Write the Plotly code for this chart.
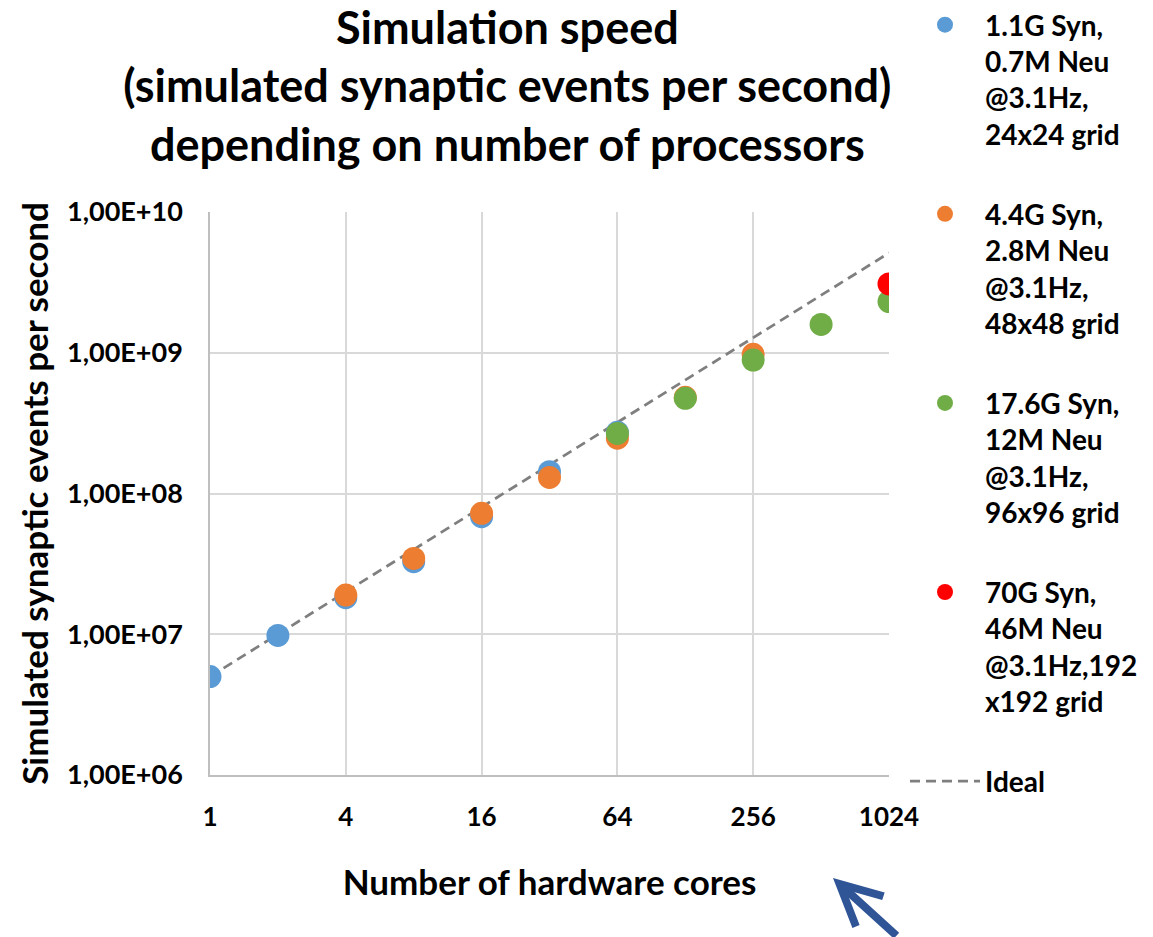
import plotly.graph_objects as go

# ---- data ----
cores_s1 = [1, 2, 4, 8, 16, 32, 64]
speed_s1 = [5.0e6, 9.8e6, 1.82e7, 3.28e7, 6.84e7, 1.43e8, 2.72e8]

cores_s2 = [4, 8, 16, 32, 64, 128, 256]
speed_s2 = [1.90e7, 3.46e7, 7.23e7, 1.30e8, 2.47e8, 4.82e8, 9.75e8]

cores_s3 = [64, 128, 256, 512, 1024]
speed_s3 = [2.67e8, 4.75e8, 8.88e8, 1.59e9, 2.31e9]

cores_s4 = [1024]
speed_s4 = [3.08e9]

cores_ideal = [1, 2, 4, 8, 16, 32, 64, 128, 256, 512, 1024]
speed_ideal = [5.0e6, 1.0e7, 2.0e7, 4.0e7, 8.0e7, 1.6e8, 3.2e8, 6.4e8, 1.28e9, 2.56e9, 5.12e9]

series_names = [
    "1.1G Syn,<br>0.7M Neu<br>@3.1Hz,<br>24x24 grid",
    "4.4G Syn,<br>2.8M Neu<br>@3.1Hz,<br>48x48 grid",
    "17.6G Syn,<br>12M Neu<br>@3.1Hz,<br>96x96 grid",
    "70G Syn,<br>46M Neu<br>@3.1Hz,192<br>x192 grid",
]
ideal_name = "Ideal"
series_colors = ["#5B9BD5", "#ED7D31", "#70AD47", "#FF0000"]

x_tickvals = [1, 4, 16, 64, 256, 1024]
x_ticktext = ["1", "4", "16", "64", "256", "1024"]
y_tickvals = [1e6, 1e7, 1e8, 1e9, 1e10]
y_ticktext = ["1,00E+06", "1,00E+07", "1,00E+08", "1,00E+09", "1,00E+10"]

FONT = "Lato"


def bold(s):
    return "<b>" + s.replace("<br>", "</b><br><b>") + "</b>"


fig = go.Figure()

fig.add_trace(go.Scatter(
    x=cores_ideal, y=speed_ideal, mode="lines", name=bold(ideal_name),
    line=dict(color="#7F7F7F", width=2.75, dash="10px,6px"),
    legendgroup="ideal", legendrank=1005,
))

for i, (xs, ys) in enumerate([(cores_s1, speed_s1), (cores_s2, speed_s2),
                              (cores_s3, speed_s3), (cores_s4, speed_s4)]):
    fig.add_trace(go.Scatter(
        x=xs, y=ys, mode="markers", name=bold(series_names[i]),
        marker=dict(size=23, color=series_colors[i], line=dict(width=0)),
        legendgroup=f"g{i}", legendrank=1000 + i,
    ))

fig.update_layout(
    width=1153, height=937,
    margin=dict(l=210, r=264, t=212, b=162),
    paper_bgcolor="white", plot_bgcolor="white",
    font=dict(family=FONT, color="black"),
    title=dict(
        text=bold("Simulation speed<br>(simulated synaptic events per second)<br>depending on number of processors"),
        x=0.44, xanchor="center", xref="container",
        y=1 - 43.5 / 937, yanchor="middle", yref="container",
        font=dict(size=45, family=FONT, color="black"),
    ),
    showlegend=True,
    legend=dict(
        x=905 / 1153, xanchor="left", xref="container",
        y=1.0, yanchor="top", yref="container",
        maxheight=930,
        font=dict(size=28, family=FONT, color="black"),
        valign="top", tracegroupgap=40.5, itemwidth=70,
        bgcolor="rgba(0,0,0,0)",
    ),
)

fig.update_xaxes(
    type="log", range=[0, 3.0103],
    tickvals=x_tickvals, ticktext=[bold(t) for t in x_ticktext],
    tickfont=dict(size=26, family=FONT, color="black"),
    showgrid=True, gridcolor="#D9D9D9", gridwidth=1.5,
    showline=True, linecolor="#BFBFBF", linewidth=1.5,
    ticks="", ticklabelstandoff=18, automargin=False,
    title=dict(text=bold("Number of hardware cores"),
               font=dict(size=35, family=FONT, color="black"), standoff=40),
    zeroline=False,
)
fig.update_yaxes(
    type="log", range=[6, 10],
    tickvals=y_tickvals, ticktext=[bold(t) for t in y_ticktext],
    tickfont=dict(size=27, family=FONT, color="black"),
    showgrid=True, gridcolor="#D9D9D9", gridwidth=1.5,
    showline=True, linecolor="#BFBFBF", linewidth=1.5,
    ticks="", ticklabelstandoff=20, automargin=False,
    title=dict(text=bold("Simulated synaptic events per second"),
               font=dict(size=35, family=FONT, color="black"), standoff=8),
    zeroline=False,
)

# decorative arrow at the bottom
fig.add_annotation(
    x=0.9175, y=-0.183, xref="paper", yref="paper",
    ax=65, ay=68, axref="pixel", ayref="pixel",
    showarrow=True, arrowhead=5, arrowsize=1.0, arrowwidth=8,
    arrowcolor="#2F5597", text="",
)

fig.write_html("out.html")
